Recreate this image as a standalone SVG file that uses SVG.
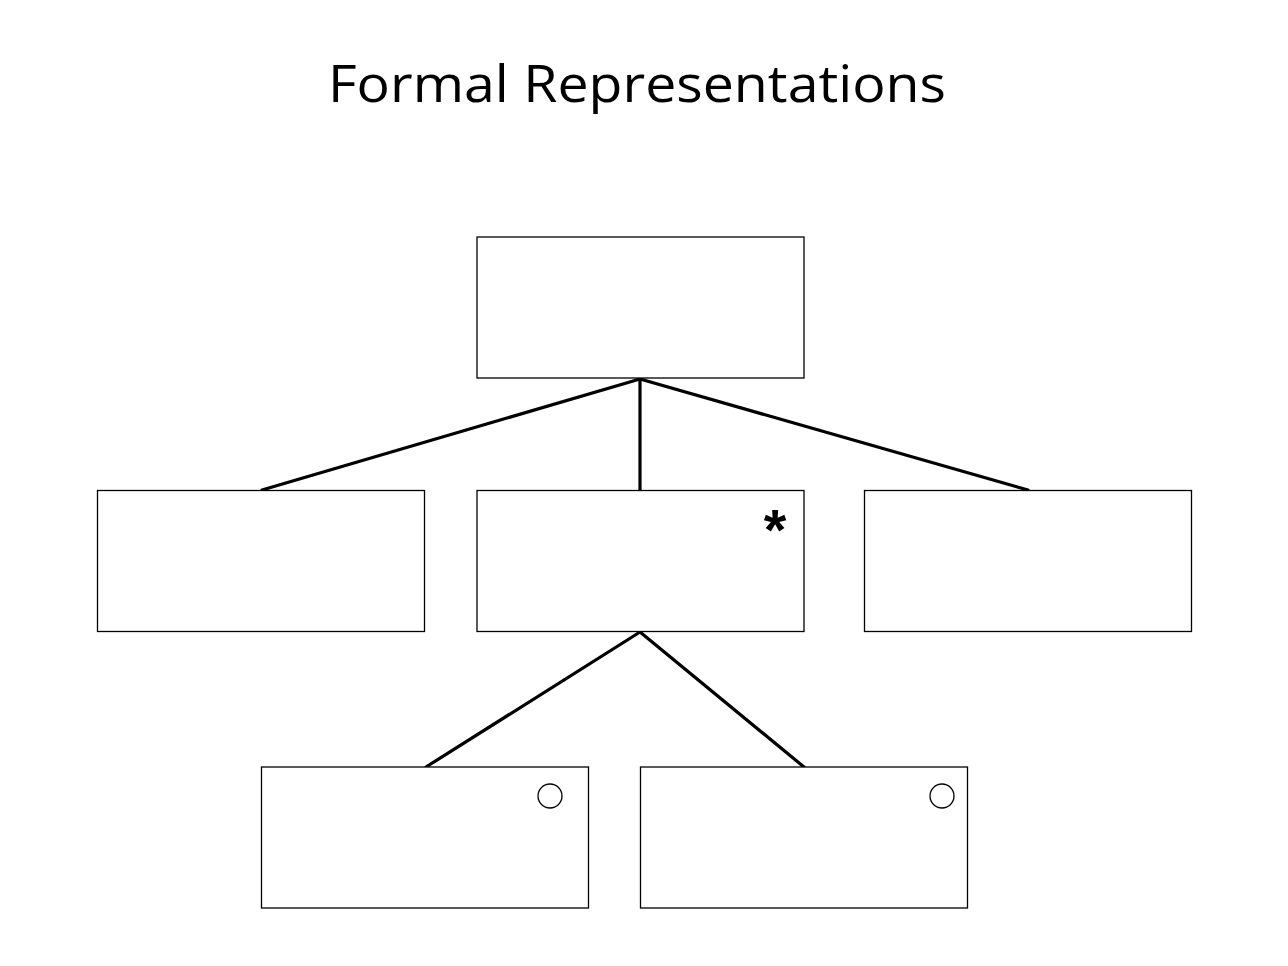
<svg xmlns="http://www.w3.org/2000/svg" width="1288" height="966" viewBox="0 0 1288 966">
<style>
.box{fill:#fff;stroke:#000;stroke-width:1.3}
.con{stroke:#000;stroke-width:3.2;fill:none;stroke-linecap:round}
.title{font-family:"Open Sans","Liberation Sans",sans-serif;font-size:52px;fill:#000}
.mark{fill:none;stroke:#000;stroke-width:1.3}
</style>
<rect width="1288" height="966" fill="#fff"/>
<text class="title" x="637" y="102" text-anchor="middle" textLength="618" lengthAdjust="spacingAndGlyphs">Formal Representations</text>
<g id="connectors">
<line class="con" x1="640" y1="379" x2="262" y2="490"/>
<line class="con" x1="640" y1="379" x2="640" y2="490"/>
<line class="con" x1="640" y1="379" x2="1028" y2="490"/>
<line class="con" x1="640" y1="632" x2="426" y2="767"/>
<line class="con" x1="640" y1="632" x2="804" y2="767"/>
</g>
<g id="top"><rect class="box" x="477" y="237" width="327" height="141"/></g>
<g id="mid-left"><rect class="box" x="97.5" y="490.5" width="327" height="141"/></g>
<g id="mid-center"><rect class="box" x="477" y="490.5" width="327" height="141"/>
<text x="775" y="550" text-anchor="middle" font-family="Liberation Sans,sans-serif" font-weight="bold" font-size="58">*</text></g>
<g id="mid-right"><rect class="box" x="864.5" y="490.5" width="327" height="141"/></g>
<g id="bot-left"><rect class="box" x="261.5" y="767" width="327" height="141"/>
<circle class="mark" cx="550" cy="796" r="12"/></g>
<g id="bot-right"><rect class="box" x="640.5" y="767" width="327" height="141"/>
<circle class="mark" cx="942" cy="796" r="12"/></g>
</svg>
